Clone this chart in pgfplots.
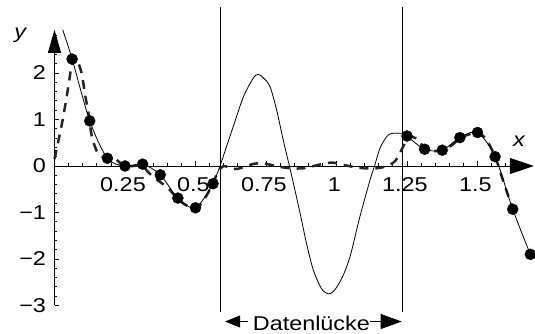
\documentclass[border=0pt]{standalone}
\usepackage{fontspec}
\setmainfont{Liberation Sans}[FakeStretch=1.17]
\usepackage{pgfplots}
\pgfplotsset{compat=1.18}
\usetikzlibrary{arrows.meta}
\begin{document}
\begin{tikzpicture}[font=\fontsize{20}{24}\selectfont]
\begin{axis}[
  x=282pt, y=46.5pt,
  xmin=0, xmax=1.70, ymin=-3, ymax=2.93,
  axis lines=middle,
  axis line style={line width=0.9pt},
  every inner x axis line/.append style={-{Triangle[length=24pt,width=16pt]}},
  every inner y axis line/.append style={-{Triangle[length=23pt,width=13pt]}},
  clip=false,
  xtick={0.25,0.5,0.75,1,1.25,1.5},
  xticklabels={0.25,0.5,0.75,1,1.25,1.5},
  minor xtick={0.05,0.1,0.15,0.2,0.3,0.35,0.4,0.45,0.55,0.6,0.65,0.7,0.8,0.85,0.9,0.95,1.05,1.1,1.15,1.2,1.3,1.35,1.4,1.45,1.55,1.6,1.65},
  ytick={-3,-2,-1,0,1,2},
  yticklabels={−3,−2,−1,0,1,2},
  minor ytick={-2.8,-2.6,-2.4,-2.2,-1.8,-1.6,-1.4,-1.2,-0.8,-0.6,-0.4,-0.2,0.2,0.4,0.6,0.8,1.2,1.4,1.6,1.8,2.2,2.4,2.6,2.8},
  hide obscured y ticks=false,
  tick align=inside,
  major tick length=4.5pt, minor tick length=2.5pt,
  tick style={black, line width=0.8pt},
  xticklabel style={anchor=base, yshift=-26pt, xshift=-2pt},
  yticklabel style={anchor=east, xshift=-5pt},
  tick label style={font=\fontsize{20}{24}\selectfont},
]
% gap boundaries
\addplot[black, line width=0.8pt] coordinates {(0.587,3.42) (0.587,-3.14)};
\addplot[black, line width=0.8pt] coordinates {(1.235,3.42) (1.235,-3.14)};
% dashed fit
\addplot[black!85, line width=2.5pt, dash pattern=on 9pt off 7pt, smooth, tension=0.5] coordinates {
(0.0,0.15) (0.013,0.52) (0.031,1.06) (0.049,1.71) (0.060,2.15) (0.068,2.32) (0.08,2.28)
(0.096,2.0) (0.108,1.55) (0.12,1.15) (0.132,0.65) (0.15,0.32) (0.17,0.2) (0.19,0.17)
(0.21,0.18) (0.23,0.08) (0.25,-0.01) (0.28,0.0) (0.31,0.02) (0.33,-0.12) (0.36,-0.28)
(0.40,-0.46) (0.43,-0.66) (0.46,-0.82) (0.49,-0.9) (0.51,-0.88) (0.535,-0.68) (0.56,-0.4)
(0.58,-0.12) (0.60,0.0) (0.625,-0.05) (0.65,-0.06) (0.68,0.0) (0.71,0.05) (0.74,0.06)
(0.77,0.02) (0.80,-0.02) (0.84,-0.05) (0.88,-0.05) (0.92,0.0) (0.96,0.06) (0.99,0.07)
(1.02,0.03) (1.06,-0.02) (1.10,-0.05) (1.14,-0.05) (1.18,0.0) (1.21,0.12) (1.235,0.40)
(1.255,0.62) (1.28,0.6) (1.3125,0.40) (1.345,0.32) (1.375,0.34) (1.41,0.45) (1.4375,0.60)
(1.47,0.68) (1.5,0.72) (1.53,0.58) (1.5625,0.20) (1.59,-0.3) (1.625,-0.93)
};
% solid interpolation
\addplot[black, line width=0.8pt, smooth, tension=0.5] coordinates {
(0.029,2.93) (0.0625,2.30) (0.125,0.97) (0.1875,0.166) (0.25,0.0) (0.3125,0.04)
(0.375,-0.19) (0.4375,-0.69) (0.5,-0.90) (0.5625,-0.38) (0.575,-0.19) (0.587,0.0)
(0.61,0.42) (0.634,0.85) (0.67,1.49) (0.705,1.89) (0.722,1.97) (0.74,1.9) (0.764,1.71)
(0.788,1.2) (0.811,0.56) (0.833,0.0) (0.852,-0.5) (0.871,-1.02) (0.895,-1.7) (0.918,-2.24)
(0.947,-2.64) (0.971,-2.75) (0.992,-2.68) (1.02,-2.40) (1.048,-1.95) (1.083,-1.09)
(1.119,-0.30) (1.135,0.0) (1.154,0.38) (1.178,0.63) (1.196,0.70) (1.243,0.70) (1.25,0.645)
(1.3125,0.36) (1.375,0.34) (1.4375,0.61) (1.5,0.72) (1.5625,0.20) (1.625,-0.93) (1.6875,-1.90)
};
% data points
\addplot[only marks, mark=*, mark size=5.5pt, black] coordinates {
(0.0625,2.30) (0.125,0.97) (0.1875,0.166) (0.25,0.0) (0.3125,0.04) (0.375,-0.19)
(0.4375,-0.69) (0.5,-0.90) (0.5625,-0.38)
(1.25,0.645) (1.3125,0.36) (1.375,0.34) (1.4375,0.61) (1.5,0.72) (1.5625,0.20)
(1.625,-0.93) (1.6875,-1.90)
};
% labels
\node[anchor=base] at (axis cs:-0.122,2.742) {\itshape y};
\node[anchor=base] at (axis cs:1.647,0.409) {\itshape x};
\node[anchor=base, inner sep=0pt] at (axis cs:0.911,-3.545) {Datenlücke};
\draw[line width=0.9pt, -{Triangle[length=15pt,width=12pt]}] (axis cs:0.686,-3.345) -- (axis cs:0.605,-3.345);
\draw[line width=0.9pt, -{Triangle[length=21pt,width=15pt]}] (axis cs:1.119,-3.345) -- (axis cs:1.231,-3.345);
\coordinate (bl) at (axis cs:-0.1933,-3.613);
\coordinate (tr) at (axis cs:1.704,3.570);
\end{axis}
\pgfresetboundingbox
\path[use as bounding box] (bl) rectangle (tr);
\end{tikzpicture}
\end{document}
